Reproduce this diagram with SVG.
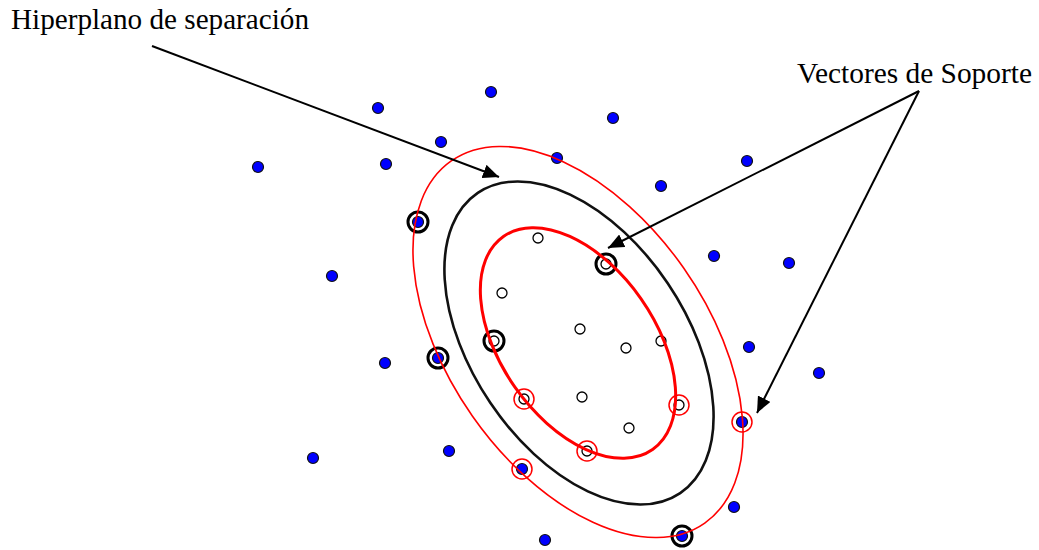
<svg xmlns="http://www.w3.org/2000/svg" width="1039" height="550" viewBox="0 0 1039 550">
<style>
.lbl{font-family:"Liberation Serif","Times New Roman",serif;font-size:29px;fill:#000}
.b{fill:#0000ff;stroke:#111;stroke-width:1.2}
.o{fill:#fff;stroke:#000;stroke-width:1.3}
.sb{fill:none;stroke:#000;stroke-width:3}
.sr{fill:none;stroke:#ff0000;stroke-width:1.5}
.arr{fill:none;stroke:#000;stroke-width:2;marker-end:url(#ah)}
</style>
<defs>
<marker id="ah" markerWidth="18" markerHeight="14" refX="16" refY="7" orient="auto" markerUnits="userSpaceOnUse">
<path d="M0,0 L16,7 L0,14 Z" fill="#000"/>
</marker>
</defs>
<rect width="1039" height="550" fill="#fff"/>
<g id="class-a-points">
<circle class="b" cx="378" cy="108" r="5.5"/>
<circle class="b" cx="491" cy="92" r="5.5"/>
<circle class="b" cx="613" cy="118" r="5.5"/>
<circle class="b" cx="441" cy="142" r="5.5"/>
<circle class="b" cx="386" cy="164" r="5.5"/>
<circle class="b" cx="557" cy="158" r="5.5"/>
<circle class="b" cx="258" cy="167" r="5.5"/>
<circle class="b" cx="747" cy="161" r="5.5"/>
<circle class="b" cx="661" cy="186" r="5.5"/>
<circle class="b" cx="714" cy="256" r="5.5"/>
<circle class="b" cx="789" cy="263" r="5.5"/>
<circle class="b" cx="332" cy="276" r="5.5"/>
<circle class="b" cx="749" cy="347" r="5.5"/>
<circle class="b" cx="819" cy="373" r="5.5"/>
<circle class="b" cx="385" cy="363" r="5.5"/>
<circle class="b" cx="449" cy="451" r="5.5"/>
<circle class="b" cx="313" cy="458" r="5.5"/>
<circle class="b" cx="545" cy="540" r="5.5"/>
<circle class="b" cx="734" cy="507" r="5.5"/>
<circle class="b" cx="418" cy="222" r="5.5"/>
<circle class="b" cx="438" cy="358" r="5.5"/>
<circle class="b" cx="522" cy="469" r="5.5"/>
<circle class="b" cx="742" cy="422" r="5.5"/>
<circle class="b" cx="682" cy="536" r="5.5"/>
</g>
<g id="class-b-points">
<circle class="o" cx="538" cy="238" r="5"/>
<circle class="o" cx="502" cy="293" r="5"/>
<circle class="o" cx="580" cy="329" r="5"/>
<circle class="o" cx="626" cy="348" r="5"/>
<circle class="o" cx="661" cy="341" r="5"/>
<circle class="o" cx="582" cy="397" r="5"/>
<circle class="o" cx="629" cy="428" r="5"/>
<circle class="o" cx="606" cy="264" r="5"/>
<circle class="o" cx="494" cy="341" r="5"/>
<circle class="o" cx="524" cy="399" r="5"/>
<circle class="o" cx="587" cy="451" r="5"/>
<circle class="o" cx="679" cy="405" r="5"/>
</g>
<g id="support-rings">
<circle class="sb" cx="418" cy="222" r="10"/>
<circle class="sb" cx="438" cy="358" r="10"/>
<circle class="sb" cx="682" cy="536" r="10"/>
<circle class="sb" cx="606" cy="264" r="10"/>
<circle class="sb" cx="494" cy="341" r="10"/>
<circle class="sr" cx="522" cy="469" r="10"/>
<circle class="sr" cx="742" cy="422" r="10"/>
<circle class="sr" cx="524" cy="399" r="10"/>
<circle class="sr" cx="587" cy="451" r="10"/>
<circle class="sr" cx="679" cy="405" r="10"/>
</g>
<g id="margins">
<ellipse cx="0" cy="0" rx="221" ry="129" transform="translate(578 342) rotate(55)" fill="none" stroke="#ff0000" stroke-width="1.6"/>
<ellipse cx="0" cy="0" rx="181" ry="107" transform="translate(579 343) rotate(56)" fill="none" stroke="#111" stroke-width="2.6"/>
<ellipse cx="0" cy="0" rx="130" ry="77" transform="translate(578 343) rotate(55)" fill="none" stroke="#ff0000" stroke-width="3"/>
</g>
<g id="connectors">
<line class="arr" x1="152" y1="46" x2="499" y2="177"/>
<line class="arr" x1="919" y1="91" x2="608" y2="248"/>
<line class="arr" x1="919" y1="91" x2="757" y2="413"/>
</g>
<g id="label-hiperplano">
<text class="lbl" x="11" y="29" textLength="298" lengthAdjust="spacingAndGlyphs">Hiperplano de separación</text>
</g>
<g id="label-vectores">
<text class="lbl" x="797" y="83" textLength="235" lengthAdjust="spacingAndGlyphs">Vectores de Soporte</text>
</g>
</svg>
